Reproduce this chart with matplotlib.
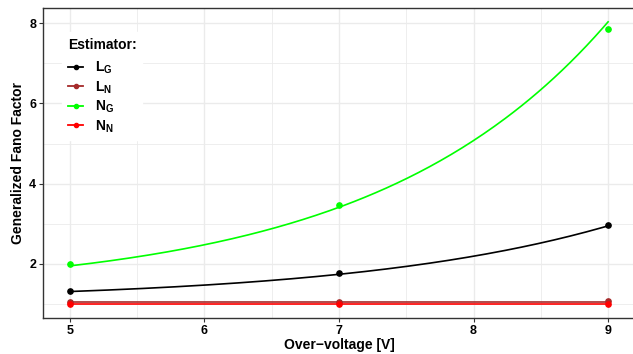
import numpy as np
import matplotlib
matplotlib.use("Agg")
import matplotlib.pyplot as plt

plt.rcParams['font.family'] = ['Liberation Sans', 'DejaVu Sans']
plt.rcParams['mathtext.fontset'] = 'custom'
plt.rcParams['mathtext.bf'] = 'Liberation Sans:bold'
plt.rcParams['mathtext.rm'] = 'Liberation Sans:bold'

# measured values
voltage = [5, 7, 9]
L_G = [1.33, 1.76, 2.97]
L_N = [1.06, 1.06, 1.07]
N_G = [2.00, 3.48, 7.85]
N_N = [1.00, 1.00, 1.01]

# fitted curves: F = a + b*exp(c*(V-5))
fit_LG = (1.073, 0.237, 0.517)
fit_LN = (1.04, 0.0, 0.0)
fit_NG = (1.275, 0.675, 0.576)
fit_NN = (1.00, 0.0, 0.0)

labels = [r'$\mathbf{L_G}$', r'$\mathbf{L_N}$', r'$\mathbf{N_G}$', r'$\mathbf{N_N}$']
colors = ['black', '#A52A2A', '#00FF00', '#FF0000']
series = [L_G, L_N, N_G, N_N]
fits = [fit_LG, fit_LN, fit_NG, fit_NN]

fig = plt.figure(figsize=(6.33, 3.54), dpi=100)
ax = fig.add_axes([43/633, 36/354, 592/633, 310/354])

vv = np.linspace(5, 9, 200)
for lab, col, ys, (a, b, c) in zip(labels, colors, series, fits):
    ax.plot(vv, a + b*np.exp(c*(vv - 5)), color=col, lw=1.2, zorder=3)
    ax.plot(voltage, ys, 'o', color=col, ms=3.8, zorder=4)
    ax.plot([], [], '-o', color=col, lw=1.3, ms=3.0, label=lab)

ax.set_xlim(4.8, 9.2)
ax.set_ylim(0.65, 8.38)
ax.set_xticks([5, 6, 7, 8, 9])
ax.set_yticks([2, 4, 6, 8])
ax.set_xticks([5.5, 6.5, 7.5, 8.5], minor=True)
ax.set_yticks([1, 3, 5, 7], minor=True)
ax.grid(which='major', color='#EBEBEB', lw=1.0)
ax.grid(which='minor', color='#EBEBEB', lw=0.6)
ax.set_axisbelow(True)
ax.tick_params(which='minor', length=0)
ax.tick_params(which='major', length=3, width=0.8, color='#333333',
               labelsize=9, labelcolor='black', pad=2)
for t in ax.get_xticklabels() + ax.get_yticklabels():
    t.set_fontweight('bold')
for s in ax.spines.values():
    s.set_color('#333333')
    s.set_linewidth(1.0)
ax.spines['right'].set_visible(False)

ax.set_xlabel('Over\u2212voltage [V]', fontsize=10, fontweight='bold', labelpad=1)
ax.set_ylabel('Generalized Fano Factor', fontsize=10, fontweight='bold', labelpad=3)

leg = ax.legend(loc='upper left', bbox_to_anchor=(0.021, 0.945), title='Estimator:',
                fontsize=10, title_fontproperties={'weight': 'bold', 'size': 10},
                frameon=True, framealpha=1, edgecolor='white', fancybox=False,
                handlelength=1.1, handletextpad=0.85, labelspacing=0.22,
                borderpad=0.4, alignment='left')
leg._legend_box.sep = 6  # extra gap under the title

fig.savefig('out.png', dpi=100)
